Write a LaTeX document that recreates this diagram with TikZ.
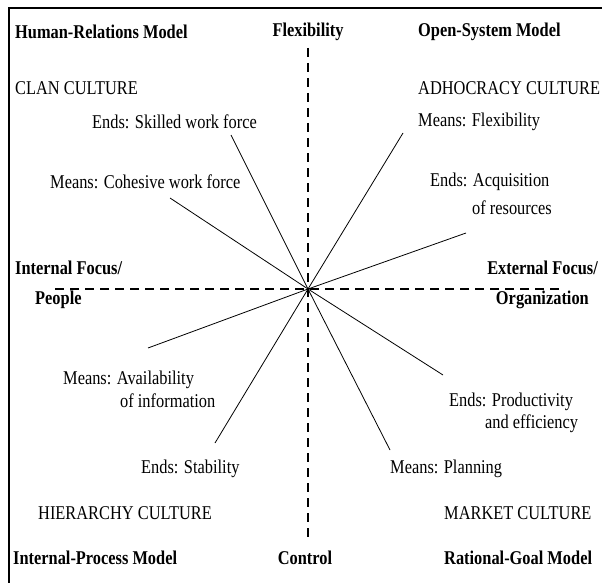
\documentclass[tikz,border=0pt]{standalone}
\usepackage{fontspec}
\setmainfont{Liberation Serif}[FakeStretch=0.84]
\begin{document}
\begin{tikzpicture}[x=1pt,y=-1pt,
  lbl/.style={anchor=west,inner sep=0pt,font=\fontsize{19.5}{22}\selectfont},
  hd/.style={anchor=west,inner sep=0pt,font=\fontsize{19.5}{22}\selectfont\bfseries},
  axis/.style={line width=1.8pt,dash pattern=on 9pt off 6pt},
  spoke/.style={line width=0.8pt},
  frame/.style={line width=1.6pt}]
\useasboundingbox (0,0) rectangle (602,583);
% frame
\coordinate (ftr) at (602,8);
\coordinate (ftl) at (9,8);
\coordinate (fbl) at (9,583);
\draw[frame] (ftr) -- (ftl) -- (fbl);
% axes
\coordinate (c) at (308,289);
\coordinate (vt) at (308,48);
\coordinate (vb) at (308,541);
\coordinate (hl) at (55,289);
\coordinate (hr) at (563,289);
\draw[axis] (vt) -- (vb);
\draw[axis] (hl) -- (hr);
% spokes
\coordinate (eSkilled) at (231,135);
\coordinate (eCohesive) at (170,198);
\coordinate (eFlex) at (403,133);
\coordinate (eAcq) at (466,233);
\coordinate (eAvail) at (148,348);
\coordinate (eStab) at (215,443);
\coordinate (eProd) at (443,375);
\coordinate (ePlan) at (390,450);
\foreach \e in {eSkilled,eCohesive,eFlex,eAcq,eAvail,eStab,eProd,ePlan}
  \draw[spoke] (c) -- (\e);
% headings
\node[hd] (hrm) at (15,32) {Human-Relations Model};
\node[hd,anchor=center] (flex) at (308,32) {Flexibility};
\node[hd] (osm) at (418,32) {Open-System Model};
\node[hd] (ifp1) at (15,268) {Internal Focus/};
\node[hd] (ifp2) at (35,300) {People};
\node[hd,anchor=east] (efo1) at (598,268) {External Focus/};
\node[hd,anchor=east] (efo2) at (589,300) {Organization};
\node[hd] (ipm) at (13,558) {Internal-Process Model};
\node[hd,anchor=center] (ctrl) at (305,558) {Control};
\node[hd] (rgm) at (444,558) {Rational-Goal Model};
% cultures
\node[lbl] (clan) at (15,88) {CLAN CULTURE};
\node[lbl] (adh) at (418,88) {ADHOCRACY CULTURE};
\node[lbl] (hier) at (38,513) {HIERARCHY CULTURE};
\node[lbl] (mkt) at (444,513) {MARKET CULTURE};
% means / ends
\node[lbl] (tSkilled) at (92,122) {Ends: Skilled work force};
\node[lbl] (tFlex) at (418,122) {Means: Flexibility};
\node[lbl] (tCoh) at (50,182) {Means: Cohesive work force};
\node[lbl] (tAcq1) at (430,182) {Ends: Acquisition};
\node[lbl] (tAcq2) at (472,208) {of resources};
\node[lbl] (tAv1) at (63,380) {Means: Availability};
\node[lbl] (tAv2) at (120,401) {of information};
\node[lbl] (tPr1) at (449,402) {Ends: Productivity};
\node[lbl] (tPr2) at (485,424) {and efficiency};
\node[lbl] (tStab) at (141,469) {Ends: Stability};
\node[lbl] (tPlan) at (390,469) {Means: Planning};
\end{tikzpicture}
\end{document}
